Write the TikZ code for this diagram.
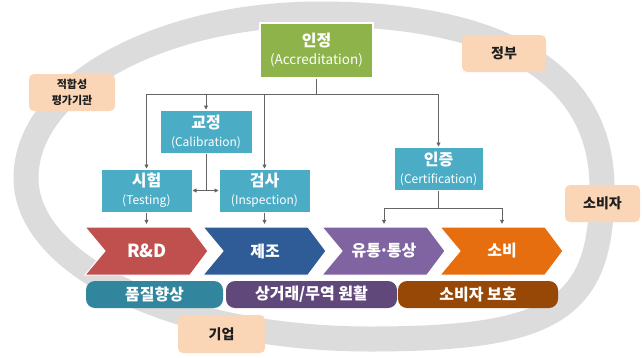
\documentclass[tikz,border=0pt]{standalone}
\usepackage{fontspec}
\setmainfont{Noto Sans CJK KR}
\usetikzlibrary{arrows.meta}

\definecolor{ringgray}{RGB}{220,220,220}
\definecolor{accgreen}{RGB}{141,179,74}
\definecolor{boxblue}{RGB}{75,172,198}
\definecolor{peach}{RGB}{251,214,182}
\definecolor{chred}{RGB}{192,80,77}
\definecolor{chblue}{RGB}{47,92,150}
\definecolor{chpurple}{RGB}{128,100,162}
\definecolor{chorange}{RGB}{230,110,14}
\definecolor{barteal}{RGB}{49,133,156}
\definecolor{barpurple}{RGB}{96,73,122}
\definecolor{barbrown}{RGB}{151,72,6}
\definecolor{linkgray}{RGB}{100,100,100}
\definecolor{inkdark}{RGB}{30,30,30}

\tikzset{
  orgbox/.style={fill=boxblue, draw=white, line width=1pt, text=white,
    align=center, inner sep=0pt, minimum height=43pt,
    font=\fontsize{12}{18}\selectfont},
  arr/.style={draw=linkgray, line width=0.8pt, -{Triangle[length=4pt,width=4pt]}},
  link/.style={draw=linkgray, line width=0.8pt},
  chev/.pic={\path[pic actions] (0,-24) -- (105,-24) -- (123,0) -- (105,24)
      -- (0,24) -- (20,0) -- cycle;},
  chevtext/.style={text=white, inner sep=0pt, minimum height=48pt,
    font=\fontsize{16}{18}\selectfont\bfseries},
  bar/.style={rounded corners=9pt, minimum height=27pt, inner sep=0pt,
    text=white, font=\fontsize{16}{18}\selectfont\bfseries},
  actor/.style={fill=peach, rounded corners=5pt, inner sep=0pt,
    minimum height=37pt, text=inkdark, align=center,
    font=\fontsize{14}{16}\selectfont\bfseries}
}

\begin{document}
\begin{tikzpicture}[x=1pt,y=-1pt]
\useasboundingbox[fill=white] (0,0) rectangle (642,357);

% stakeholder ring
\draw[ringgray, line width=25pt]
  (26,178) .. controls (26,87.5) and (158,14) .. (320,14)
  .. controls (503,14) and (602,75) .. (602,188)
  .. controls (602,308.8) and (555.6,339) .. (370,339)
  .. controls (180,339) and (26,267) .. cycle;

% accreditation body and conformity assessment activities
\node[fill=accgreen, draw=white, line width=1.5pt, text=white, align=center,
  inner sep=0pt, minimum width=113pt, minimum height=55pt,
  font=\fontsize{13.5}{18}\selectfont] (acc) at (316.5,50.5)
  {{\fontsize{16}{18}\selectfont\bfseries 인정}\\(Accreditation)};
\node[orgbox, minimum width=92pt] (cal) at (206,131.5)
  {{\fontsize{16}{18}\selectfont\bfseries 교정}\\(Calibration)};
\node[orgbox, minimum width=91pt] (tst) at (146.5,190.5)
  {{\fontsize{16}{18}\selectfont\bfseries 시험}\\(Testing)};
\node[orgbox, minimum width=91pt] (ins) at (264.5,190.5)
  {{\fontsize{16}{18}\selectfont\bfseries 검사}\\(Inspection)};
\node[orgbox, minimum width=89pt] (cer) at (438.5,168.5)
  {{\fontsize{16}{18}\selectfont\bfseries 인증}\\(Certification)};

% value chain
\pic[fill=chred, draw=white, line width=1pt] at (85,251) {chev};
\pic[fill=chblue, draw=white, line width=1pt] at (203,251) {chev};
\pic[fill=chpurple, draw=white, line width=1pt] at (322,251) {chev};
\pic[fill=chorange, draw=white, line width=1pt] at (440,251) {chev};
\node[chevtext, font=\fontsize{18}{18}\selectfont\bfseries] (rd) at (147,251) {R\&D};
\node[chevtext] (mf) at (265,251) {제조};
\node[chevtext] (ds) at (384,251) {유통\kern-2pt·\kern-2pt통상};
\node[chevtext] (cs) at (502,251) {소비};

% outcomes
\node[bar, fill=barteal, minimum width=137pt] (qual) at (154.5,294.5) {품질향상};
\node[bar, fill=barpurple, minimum width=171pt] (trade) at (311.5,294.5) {상거래/무역 원활};
\node[bar, fill=barbrown, minimum width=160pt] (prot) at (478,294.5) {소비자 보호};

% stakeholders on the ring
\node[actor, minimum width=86pt, font=\fontsize{11}{16}\selectfont\bfseries]
  (cab) at (72,92.5) {적합성\\평가기관};
\node[actor, minimum width=84pt] (gov) at (504,53.5) {정부};
\node[actor, minimum width=75pt] (con) at (602.5,203.5) {소비자};
\node[actor, minimum width=87pt, minimum height=38pt] (biz) at (221.5,334) {기업};

% links from accreditation
\coordinate (bus) at (316.5,94);
\draw[link] (acc.south) -- (bus);
\draw[arr] (bus) -| (tst.north);
\draw[arr] (bus) -| (cal.north);
\draw[arr] (bus) -| (ins.north);
\draw[arr] (bus) -| (cer.north);

% calibration supports testing and inspection
\coordinate (calj) at (cal.south |- tst.east);
\draw[link] (cal.south) -- (calj);
\draw[arr] (calj) -- (tst.east);
\draw[arr] (calj) -- (ins.west);

% activities feeding the value chain
\draw[arr, shorten >=3pt] (tst.south) -- (tst.south |- rd.north);
\draw[arr, shorten >=3pt] (ins.south) -- (ins.south |- mf.north);
\coordinate (cerj) at (438.5,208);
\draw[link] (cer.south) -- (cerj);
\draw[arr, shorten >=3pt] (cerj) -| (ds.north);
\draw[arr, shorten >=3pt] (cerj) -| (cs.north);
\end{tikzpicture}
\end{document}
